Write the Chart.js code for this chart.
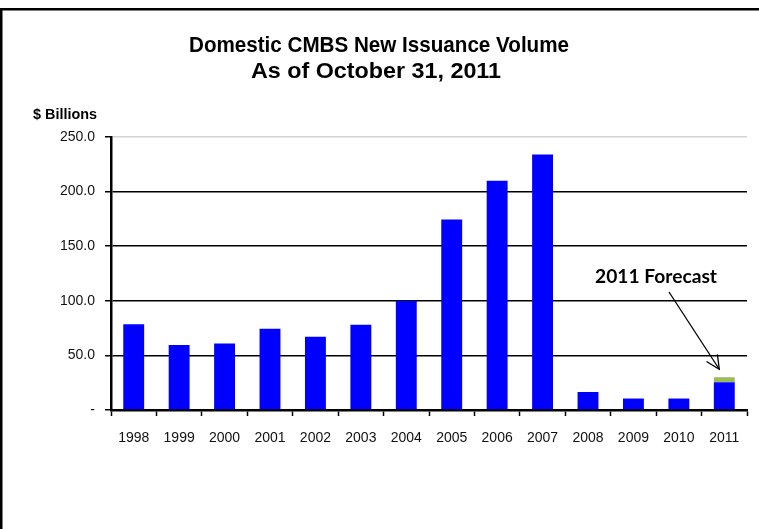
<!DOCTYPE html>
<html><head><meta charset="utf-8">
<script src="https://cdn.jsdelivr.net/npm/chart.js@4/dist/chart.umd.min.js"></script>
<style>html,body{margin:0;padding:0;background:#fff;}#wrap{width:759px;height:529px;}</style>
</head><body><div id="wrap"><canvas id="c" width="759" height="529"></canvas></div>
<script>
const years = ['1998','1999','2000','2001','2002','2003','2004','2005','2006','2007','2008','2009','2010','2011'];
const issuance = [78.5, 59.5, 61, 74.5, 67, 78, 100, 174.5, 210, 234, 16.5, 10.5, 10.5, 25.4];
const forecastExtra = [null, null, null, null, null, null, null, null, null, null, null, null, null, 4.6];
const yTicks = [0, 50, 100, 150, 200, 250];
const titleLines = ['Domestic CMBS New Issuance Volume', 'As of October 31, 2011'];
const unitLabel = '$ Billions';
const annotationText = '2011 Forecast';

function drawFitted(ctx, text, cx, cy, font, targetW, align) {
  ctx.save();
  ctx.font = font;
  const w = ctx.measureText(text).width;
  const s = targetW ? targetW / w : 1;
  ctx.translate(cx, cy);
  ctx.scale(s, 1);
  ctx.textAlign = align || 'center';
  ctx.textBaseline = 'middle';
  ctx.fillText(text, 0, 0);
  ctx.restore();
}

const decor = {
  id: 'decor',
  beforeDraw(chart) {
    const ctx = chart.ctx;
    ctx.save();
    ctx.fillStyle = '#fff';
    ctx.fillRect(0, 0, chart.width, chart.height);
    ctx.restore();
  },
  afterDraw(chart) {
    const ctx = chart.ctx;
    ctx.save();
    ctx.fillStyle = '#000';
    // frame (top and left edges)
    ctx.fillRect(0, 8, chart.width, 2.5);
    ctx.fillRect(0, 8, 2.5, chart.height - 8);
    // title
    drawFitted(ctx, titleLines[0], 379, 46, 'bold 22px "Liberation Sans", Arial, sans-serif', 380);
    drawFitted(ctx, titleLines[1], 376, 72, 'bold 22px "Liberation Sans", Arial, sans-serif', 250);
    // unit label
    drawFitted(ctx, unitLabel, 33, 115, 'bold 15px "Liberation Sans", Arial, sans-serif', 64, 'left');
    // annotation
    drawFitted(ctx, annotationText, 656, 277, 'bold 19px Lato, "Open Sans", sans-serif', 122);
    const meta = chart.getDatasetMeta(1);
    const bar = meta.data[meta.data.length - 1];
    const tipX = bar.x - 5, tipY = bar.y - 8;
    const sx = 669, sy = 292;
    ctx.strokeStyle = '#000';
    ctx.lineWidth = 1.3;
    ctx.beginPath();
    ctx.moveTo(sx, sy);
    ctx.lineTo(tipX, tipY);
    ctx.stroke();
    const ang = Math.atan2(tipY - sy, tipX - sx);
    const hl = 15, ha = 0.45;
    ctx.beginPath();
    ctx.moveTo(tipX - hl * Math.cos(ang - ha), tipY - hl * Math.sin(ang - ha));
    ctx.lineTo(tipX, tipY);
    ctx.lineTo(tipX - hl * Math.cos(ang + ha), tipY - hl * Math.sin(ang + ha));
    ctx.stroke();
    ctx.restore();
  }
};

new Chart(document.getElementById('c'), {
  type: 'bar',
  data: {
    labels: years,
    datasets: [
      { label: 'Issuance', data: issuance, backgroundColor: '#0000FF', borderWidth: 0,
        categoryPercentage: 1, barPercentage: 0.46 },
      { label: '2011 Forecast', data: forecastExtra, backgroundColor: '#9BBB59', borderWidth: 0,
        categoryPercentage: 1, barPercentage: 0.46 }
    ]
  },
  options: {
    responsive: false,
    devicePixelRatio: 1,
    animation: false,
    layout: { padding: { left: 0, top: 137, right: 12, bottom: 0 } },
    plugins: { legend: { display: false }, title: { display: false }, tooltip: { enabled: false } },
    scales: {
      x: {
        stacked: true,
        grid: { offset: true, drawOnChartArea: false, drawTicks: true, tickLength: 6, tickColor: '#000', tickWidth: 1.5 },
        border: { display: true, color: '#000', width: 2.5 },
        ticks: { font: { family: '"Liberation Sans", Arial, sans-serif', size: 14 }, color: '#111',
                 padding: 14, maxRotation: 0, autoSkip: false },
        afterFit(scale) { scale.height = 119; }
      },
      y: {
        stacked: true,
        min: 0, max: 250,
        afterBuildTicks(scale) { scale.ticks = yTicks.map(v => ({ value: v })); },
        grid: {
          color: (c) => (c.tick && c.tick.value === 250) ? '#d4d4d4' : '#000',
          lineWidth: 1.5, tickLength: 6, tickColor: '#000', tickWidth: 1.5
        },
        border: { display: true, color: '#000', width: 2.5 },
        ticks: {
          font: { family: '"Liberation Sans", Arial, sans-serif', size: 14 }, color: '#111', padding: 10,
          callback: (v) => v === 0 ? '-' : Number(v).toFixed(1)
        },
        afterFit(scale) { scale.width = 111; }
      }
    }
  },
  plugins: [decor]
});
</script>
</body></html>
